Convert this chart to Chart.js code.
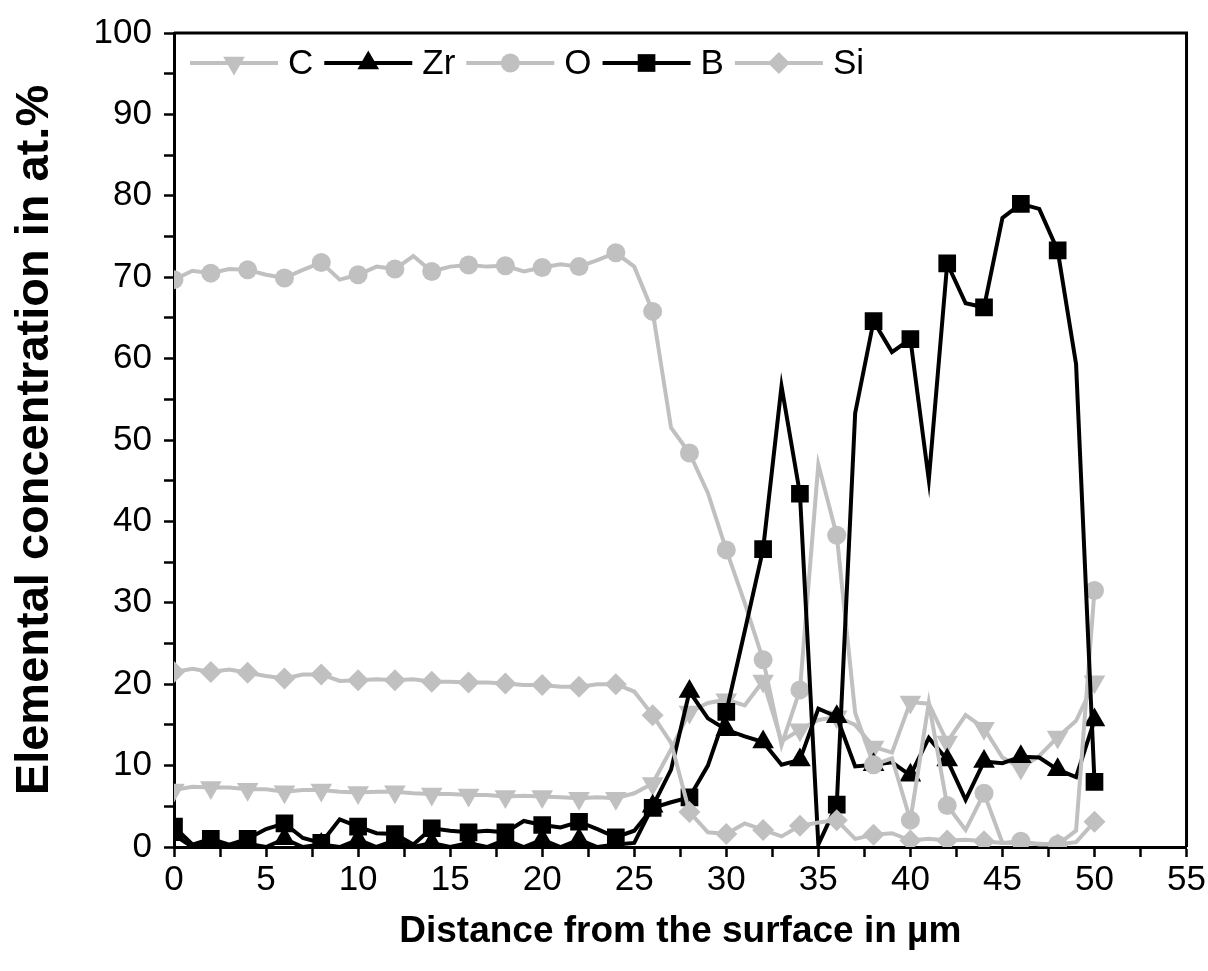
<!DOCTYPE html>
<html>
<head>
<meta charset="utf-8">
<script src="https://cdn.jsdelivr.net/npm/chart.js@4/dist/chart.umd.min.js"></script>
<style>
  html, body { margin: 0; padding: 0; background: #fff; }
  #wrap { width: 1208px; height: 971px; position: relative; }
</style>
</head>
<body>
<div id="wrap"><canvas id="profileChart"></canvas></div>
<script>
// distance from the surface (µm)
const distance = [0, 1, 2, 3, 4, 5, 6, 7, 8, 9, 10, 11, 12, 13, 14, 15, 16, 17, 18, 19, 20,
  21, 22, 23, 24, 25, 26, 27, 28, 29, 30, 31, 32, 33, 34, 35, 36, 37, 38, 39, 40,
  41, 42, 43, 44, 45, 46, 47, 48, 49, 50];

// concentrations in at.%
const carbon = [7.0, 7.4, 7.3, 7.3, 7.1, 7.1, 6.8, 7.0, 7.0, 6.8, 6.7, 6.8, 6.8, 6.6, 6.5, 6.5, 6.4, 6.4, 6.2, 6.3, 6.2,
  6.1, 6.0, 6.1, 6.0, 6.6, 7.8, 12.0, 16.6, 17.7, 18.1, 17.4, 20.4, 13.0, 14.4, 15.6, 16.0, 15.0, 12.3, 11.6, 17.8,
  17.6, 12.9, 16.2, 14.6, 11.0, 9.7, 11.2, 13.5, 15.5, 20.3];
const zirconium = [1.5, 0, 0.4, 0, 0.4, 0, 1.0, 0, 0.3, 0, 0.9, 0, 0.8, 0, 0.5, 0, 0.5, 0, 0.9, 0, 0.9,
  0, 0.9, 0, 0.3, 0.5, 5.0, 9.5, 19.1, 15.8, 14.4, 13.6, 12.9, 10.1, 10.7, 17.0, 16.0, 9.9, 10.1, 10.4, 8.8,
  13.4, 10.7, 5.8, 10.5, 10.3, 11.1, 11.0, 9.5, 8.6, 15.6];
const oxygen = [69.7, 70.8, 70.5, 71.0, 70.9, 70.3, 69.9, 70.9, 71.8, 69.7, 70.3, 71.3, 71.0, 72.6, 70.7, 71.3, 71.5, 71.3, 71.4, 70.7, 71.2,
  71.6, 71.3, 72.1, 73.0, 71.3, 65.8, 51.5, 48.4, 43.5, 36.5, 30.0, 23.0, 12.5, 19.3, 47.0, 38.3, 16.5, 10.1, 10.9, 3.3,
  17.7, 5.1, 2.1, 6.6, 0.5, 0.7, 0.3, 0.3, 2.0, 31.5];
const boron = [2.5, 0.3, 1.0, 0.3, 1.0, 2.2, 2.9, 1.1, 0.5, 3.4, 2.5, 1.7, 1.6, 0.3, 2.3, 2.0, 1.8, 2.0, 1.8, 3.2, 2.7,
  2.4, 3.1, 2.2, 1.2, 2.0, 4.8, 5.5, 6.1, 10.0, 16.6, 26.5, 36.6, 56.6, 43.4, 0.3, 5.2, 53.3, 64.6, 60.8, 62.4,
  45.1, 71.7, 66.8, 66.3, 77.3, 79.0, 78.4, 73.3, 59.3, 8.0];
const silicon = [21.5, 21.9, 21.5, 21.8, 21.4, 21.0, 20.7, 21.2, 21.2, 20.4, 20.5, 20.6, 20.5, 20.6, 20.3, 20.3, 20.2, 20.2, 20.1, 19.9, 19.9,
  19.7, 19.7, 20.0, 20.0, 19.1, 16.2, 12.8, 4.3, 1.8, 1.6, 2.9, 2.1, 1.3, 2.6, 3.0, 3.3, 1.0, 1.5, 1.7, 0.8,
  1.0, 0.8, 0.9, 0.7, 0.5, 0.5, 0.4, 0.3, 0.6, 3.1];

const GREY = '#c0c0c0';
const BLACK = '#000000';
const FONT = '"Liberation Sans", Arial, Helvetica, sans-serif';

function makeSeries(label, values, color, style, radius, rotation, order) {
  return {
    label: label,
    data: distance.map((d, i) => ({ x: d, y: values[i] })),
    borderColor: color,
    backgroundColor: color,
    borderWidth: 4,
    pointStyle: style,
    pointRotation: rotation,
    markerRadius: radius,
    // markers only on every second measurement point
    pointRadius: ctx => (ctx.raw && ctx.raw.x % 2 === 0) ? radius : 0,
    pointHoverRadius: ctx => (ctx.raw && ctx.raw.x % 2 === 0) ? radius : 0,
    pointBorderWidth: 0,
    tension: 0,
    order: order
  };
}

// frame on top and right edge of the plot area
const framePlugin = {
  id: 'frame',
  afterDraw(chart) {
    const { ctx, chartArea: a } = chart;
    ctx.save();
    ctx.strokeStyle = BLACK;
    ctx.lineWidth = 3;
    ctx.beginPath();
    ctx.moveTo(a.left, a.top);
    ctx.lineTo(a.right, a.top);
    ctx.lineTo(a.right, a.bottom);
    ctx.stroke();
    ctx.restore();
  }
};

// legend: line + marker + name, in one row inside the plot
const lineLegend = {
  id: 'lineLegend',
  afterDraw(chart) {
    const { ctx, chartArea: a } = chart;
    const order = ['C', 'Zr', 'O', 'B', 'Si'];
    let x = a.left + 16;
    const y = a.top + 30;
    ctx.save();
    ctx.font = '35px ' + FONT;
    ctx.textBaseline = 'middle';
    order.forEach(name => {
      const ds = chart.data.datasets.find(d => d.label === name);
      ctx.strokeStyle = ds.borderColor;
      ctx.lineWidth = 4;
      ctx.beginPath();
      ctx.moveTo(x, y);
      ctx.lineTo(x + 88, y);
      ctx.stroke();
      ctx.fillStyle = ds.backgroundColor;
      Chart.helpers.drawPoint(ctx, {
        pointStyle: ds.pointStyle,
        rotation: ds.pointRotation,
        radius: ds.markerRadius,
        borderWidth: 0
      }, x + 44, y);
      ctx.fillStyle = BLACK;
      ctx.fillText(name, x + 98, y + 1);
      x += 98 + ctx.measureText(name).width + 11;
    });
    ctx.restore();
  }
};

const datasets = [
  makeSeries('C', carbon, GREY, 'triangle', 12.5, 180, 5),
  makeSeries('Zr', zirconium, BLACK, 'triangle', 12.5, 0, 4),
  makeSeries('O', oxygen, GREY, 'circle', 9.5, 0, 3),
  makeSeries('B', boron, BLACK, 'rect', 12.5, 0, 2),
  makeSeries('Si', silicon, GREY, 'rectRot', 11, 0, 1)
];

const ctx = document.getElementById('profileChart').getContext('2d');
new Chart(ctx, {
  type: 'line',
  data: { datasets: datasets },
  options: {
    responsive: true,
    maintainAspectRatio: false,
    animation: false,
    layout: { padding: { top: 33, right: 21, left: 0, bottom: 0 } },
    plugins: {
      legend: { display: false },
      tooltip: { enabled: false }
    },
    scales: {
      x: {
        type: 'linear',
        min: 0,
        max: 55,
        afterFit: scale => { scale.height = 124; },
        ticks: {
          stepSize: 2.5,
          autoSkip: false,
          maxRotation: 0,
          padding: 2,
          color: BLACK,
          font: { family: FONT, size: 35 },
          callback: v => (v % 5 === 0 ? v : '')
        },
        grid: { drawOnChartArea: false, tickLength: 10, tickWidth: 2.5, tickColor: BLACK },
        border: { color: BLACK, width: 3 },
        title: {
          display: true,
          text: 'Distance from the surface in µm',
          color: BLACK,
          font: { family: FONT, size: 37, weight: 'bold' },
          padding: { top: 0, bottom: 17 }
        }
      },
      y: {
        min: 0,
        max: 100,
        afterFit: scale => { scale.width = 174; },
        ticks: {
          stepSize: 5,
          autoSkip: false,
          padding: 12,
          color: BLACK,
          font: { family: FONT, size: 35 },
          callback: v => (v % 10 === 0 ? v : '')
        },
        grid: { drawOnChartArea: false, tickLength: 10, tickWidth: 2.5, tickColor: BLACK },
        border: { color: BLACK, width: 3 },
        title: {
          display: true,
          text: 'Elemental concentration in at.%',
          color: BLACK,
          font: { family: FONT, size: 47, weight: 'bold' },
          padding: { top: 7, bottom: 0 }
        }
      }
    }
  },
  plugins: [framePlugin, lineLegend]
});
</script>
</body>
</html>
